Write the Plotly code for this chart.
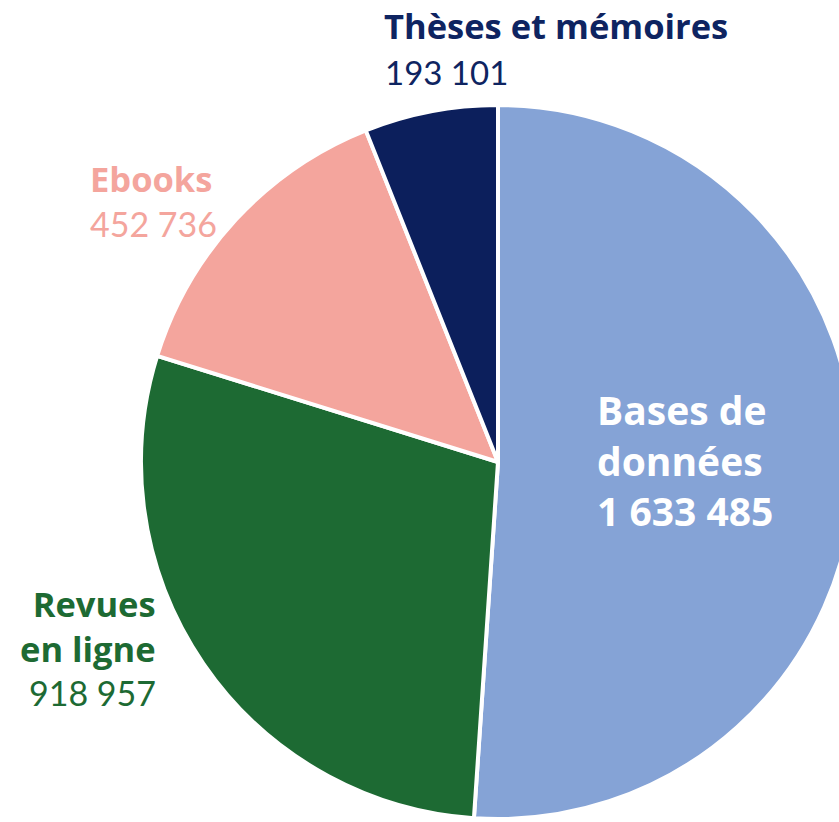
import plotly.graph_objects as go

categories = ["Bases de données", "Revues en ligne", "Ebooks", "Thèses et mémoires"]
label_lines = [["Bases de", "données"], ["Revues", "en ligne"], ["Ebooks"], ["Thèses et mémoires"]]
values = [1633485, 918957, 452736, 193101]
colors = ["#85A3D6", "#1D6A33", "#F4A59D", "#0C1F5C"]

W, H = 880, 822

def fmt(v):
    return f"{v:,}".replace(",", " ")

fig = go.Figure(go.Pie(
    labels=categories,
    values=values,
    sort=False,
    direction="clockwise",
    rotation=0,
    marker=dict(colors=colors, line=dict(color="white", width=4)),
    textinfo="none",
    hoverinfo="label+value",
    showlegend=False,
    domain=dict(x=[141 / W, 855 / W], y=[3 / H, 717 / H]),
))

LABEL_FONT = "Open Sans"
NUM_FONT = "Lato"
FS = 34.5

def add(text, x, y, xa, al, col, fam, size):
    fig.add_annotation(
        text=text, x=x / W, y=1 - y / H, xref="paper", yref="paper",
        xanchor=xa, yanchor="middle", align=al, showarrow=False,
        font=dict(family=fam, size=size, color=col),
    )

# Bases de données (inside, white, larger)
add("<b>" + "<br>".join(label_lines[0] + [fmt(values[0])]) + "</b>",
    595, 460, "left", "left", "white", LABEL_FONT, 39)

# Revues en ligne
add("<b>" + "<br>".join(label_lines[1]) + "</b>", 158, 626, "right", "right", colors[1], LABEL_FONT, FS)
add(fmt(values[1]), 158, 692, "right", "right", colors[1], NUM_FONT, 34)

# Ebooks
add("<b>" + label_lines[2][0] + "</b>", 88, 178, "left", "left", colors[2], LABEL_FONT, FS)
add(fmt(values[2]), 88, 223, "left", "left", colors[2], NUM_FONT, 34)

# Thèses et mémoires
add("<b>" + label_lines[3][0] + "</b>", 382, 26, "left", "left", "#0E2461", LABEL_FONT, FS)
add(fmt(values[3]), 383, 72, "left", "left", "#0E2461", NUM_FONT, 33)

fig.update_layout(
    width=W, height=H,
    margin=dict(l=0, r=0, t=0, b=0),
    paper_bgcolor="white",
    plot_bgcolor="white",
)

fig.write_html(
    "out.html",
    config={"displayModeBar": False},
    post_script="document.body.style.margin='0';document.body.style.overflow='hidden';",
)
